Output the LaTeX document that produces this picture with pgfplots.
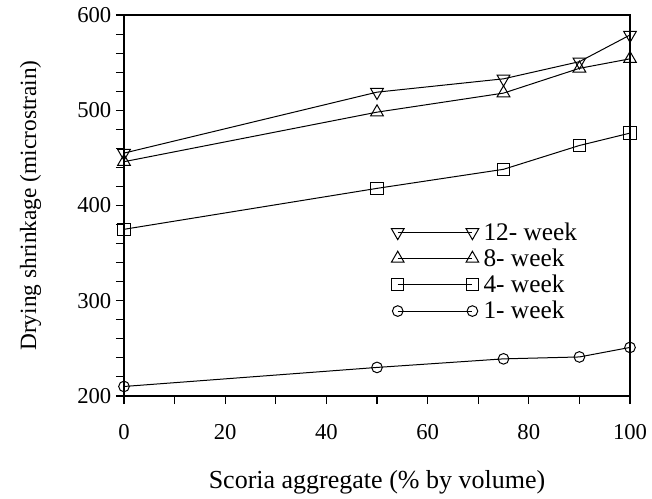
\documentclass[border=0pt]{standalone}
\usepackage{fontspec}
\setmainfont{Liberation Serif}
\usepackage{pgfplots}
\pgfplotsset{compat=1.18}

\begin{document}
\begin{tikzpicture}
\begin{axis}[
    name=ax,
    scale only axis,
    width=379.5pt, height=285.75pt,
    xmin=0, xmax=100, ymin=200, ymax=600,
    xtick={0,20,...,100}, ytick={200,300,...,600},
    minor x tick num=1, minor y tick num=4,
    tick align=outside,
    xtick pos=bottom, ytick pos=left,
    major tick length=6pt, minor tick length=6pt,
    every tick/.style={black, line width=0.8pt},
    axis line style={line width=0.8pt},
    /pgf/number format/assume math mode=true,
    tick label style={font=\fontsize{17}{20}\selectfont},
    xticklabel style={yshift=-12pt},
    xlabel={Scoria aggregate (\% by volume)},
    ylabel={Drying shrinkage (microstrain)},
    every axis x label/.style={at={(axis description cs:0.5,-0.2257)}, anchor=center,
        font=\fontsize{19.5}{22}\selectfont},
    every axis y label/.style={at={(axis description cs:-0.1845,0.5)}, rotate=90, anchor=center,
        font=\fontsize{17.5}{20}\selectfont},
    legend style={draw=none, fill=none, at={(0.52,0.47)}, anchor=north west,
        font=\fontsize{19}{22}\selectfont, row sep=1pt},
    legend cell align=left,
    legend image code/.code={\draw[#1] plot coordinates {(0pt,0pt) (56pt,0pt)}; \path (62pt,0pt);},
    every axis plot/.append style={black, line width=0.75pt, mark options={solid, fill=white}},
]
\addplot[mark=triangle, mark size=5.5pt, mark options={rotate=180}] coordinates {(0,455) (50,519) (75,533) (90,551) (100,579)};
\addplot[mark=triangle, mark size=5.5pt] coordinates {(0,446) (50,498) (75,518) (90,544) (100,554)};
\addplot[mark=square, mark size=4.6pt] coordinates {(0,375) (50,418) (75,438) (90,463) (100,476)};
\addplot[mark=o, mark size=4pt] coordinates {(0,210) (50,230) (75,239) (90,241) (100,251)};
\legend{12- week, 8- week, 4- week, 1- week}
\end{axis}
\path ([shift={(-93pt,-75pt)}]ax.south west) rectangle ([shift={(16.5pt,11.25pt)}]ax.north east);
\end{tikzpicture}
\end{document}
